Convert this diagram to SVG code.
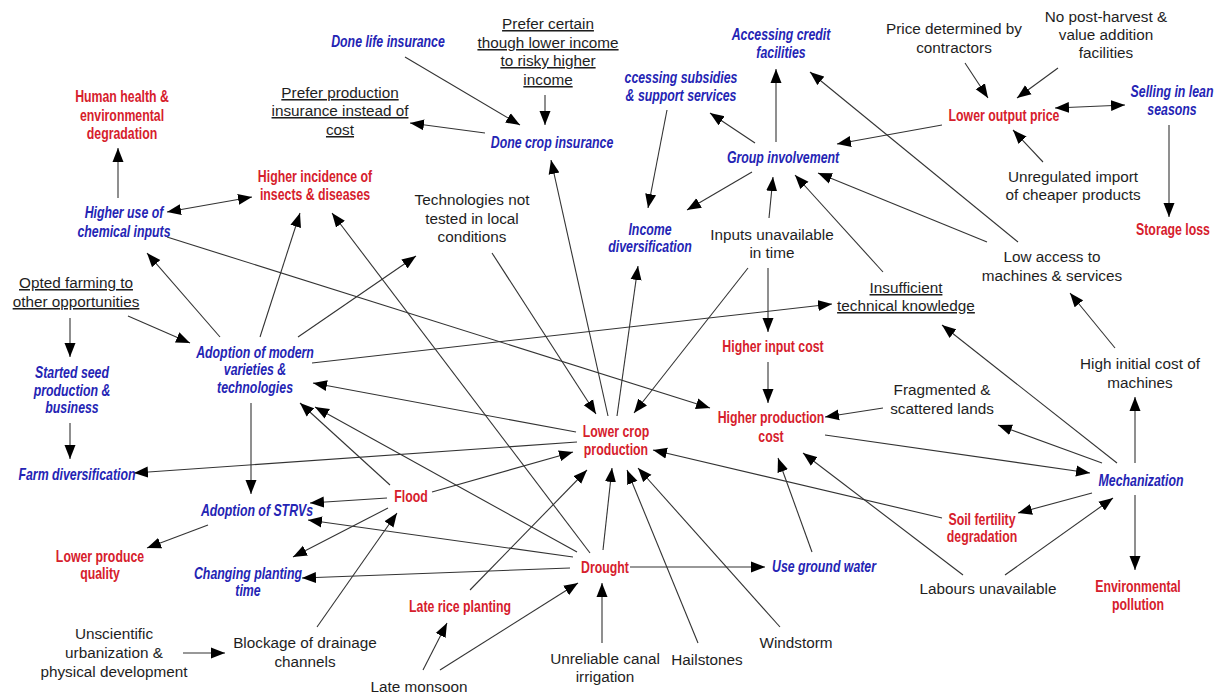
<svg xmlns="http://www.w3.org/2000/svg" width="1217" height="695" viewBox="0 0 1217 695">
<style>
text{text-anchor:middle}
.k{font-family:"Liberation Sans",Arial,sans-serif;font-size:15.3px;fill:#1e1e1e}
.u{text-decoration:underline}
.r{font-family:"Liberation Sans Narrow","Liberation Sans",Arial,sans-serif;font-weight:bold;font-size:15.6px;fill:#d6202c}
.b{font-family:"Liberation Sans Narrow","Liberation Sans",Arial,sans-serif;font-weight:bold;font-style:italic;font-size:15.6px;fill:#2424b4}
#edges line{stroke:#333;stroke-width:1.1;fill:none;marker-end:url(#ah)}
#edges line.d{marker-start:url(#ah)}
</style>
<defs>
<marker id="ah" markerUnits="userSpaceOnUse" markerWidth="15" markerHeight="12" refX="14" refY="5.5" orient="auto-start-reverse" viewBox="0 0 15 11">
<path d="M0,0 L14,5.5 L0,11 z" fill="#000"/>
</marker>
</defs>
<rect width="1217" height="695" fill="#fff"/>
<g id="edges">
<line x1="118" y1="198" x2="118" y2="148"/>
<line class="d" x1="167" y1="212" x2="252" y2="197"/>
<line x1="220" y1="337" x2="147" y2="253"/>
<line x1="260" y1="337" x2="300" y2="213"/>
<line x1="298" y1="337" x2="416" y2="256"/>
<line x1="312" y1="363" x2="832" y2="304"/>
<line x1="167" y1="237" x2="710" y2="408"/>
<line x1="70" y1="318" x2="70" y2="357"/>
<line x1="128" y1="316" x2="190" y2="343"/>
<line x1="70" y1="423" x2="70" y2="459"/>
<line x1="251" y1="403" x2="251" y2="494"/>
<line x1="577" y1="442" x2="134" y2="473"/>
<line x1="576" y1="432" x2="313" y2="383"/>
<line x1="390" y1="485" x2="300" y2="403"/>
<line x1="577" y1="552" x2="315" y2="407"/>
<line x1="590" y1="553" x2="332" y2="213"/>
<line x1="492" y1="253" x2="596" y2="414"/>
<line x1="608" y1="416" x2="551" y2="160"/>
<line x1="617" y1="416" x2="638" y2="266"/>
<line x1="748" y1="268" x2="634" y2="413"/>
<line x1="769" y1="218" x2="773" y2="177"/>
<line x1="768" y1="268" x2="768" y2="332"/>
<line x1="768" y1="362" x2="768" y2="403"/>
<line x1="883" y1="272" x2="795" y2="175"/>
<line x1="987" y1="242" x2="818" y2="173"/>
<line x1="1018" y1="242" x2="810" y2="72"/>
<line x1="942" y1="125" x2="837" y2="144"/>
<line x1="776" y1="142" x2="776" y2="69"/>
<line x1="755" y1="143" x2="710" y2="113"/>
<line x1="667" y1="110" x2="648" y2="208"/>
<line x1="752" y1="172" x2="687" y2="210"/>
<line x1="405" y1="57" x2="520" y2="125"/>
<line x1="545" y1="95" x2="545" y2="125"/>
<line x1="485" y1="133" x2="410" y2="123"/>
<line x1="965" y1="63" x2="988" y2="98"/>
<line x1="1058" y1="68" x2="1017" y2="98"/>
<line class="d" x1="1055" y1="108" x2="1125" y2="105"/>
<line x1="1043" y1="162" x2="1013" y2="130"/>
<line x1="1169" y1="125" x2="1169" y2="217"/>
<line x1="1115" y1="348" x2="1070" y2="293"/>
<line x1="1135" y1="463" x2="1135" y2="397"/>
<line x1="1117" y1="463" x2="942" y2="325"/>
<line x1="1102" y1="463" x2="998" y2="425"/>
<line x1="825" y1="435" x2="1090" y2="473"/>
<line x1="883" y1="408" x2="825" y2="417"/>
<line x1="1092" y1="493" x2="1018" y2="513"/>
<line x1="1135" y1="495" x2="1135" y2="570"/>
<line x1="1005" y1="575" x2="1113" y2="498"/>
<line x1="963" y1="575" x2="803" y2="453"/>
<line x1="812" y1="552" x2="778" y2="458"/>
<line x1="942" y1="518" x2="653" y2="450"/>
<line x1="630" y1="567" x2="765" y2="567"/>
<line x1="780" y1="627" x2="638" y2="468"/>
<line x1="698" y1="643" x2="627" y2="470"/>
<line x1="603" y1="550" x2="612" y2="468"/>
<line x1="470" y1="590" x2="587" y2="470"/>
<line x1="432" y1="492" x2="573" y2="452"/>
<line x1="602" y1="643" x2="602" y2="583"/>
<line x1="440" y1="670" x2="578" y2="583"/>
<line x1="423" y1="670" x2="447" y2="623"/>
<line x1="317" y1="627" x2="397" y2="513"/>
<line x1="387" y1="498" x2="310" y2="503"/>
<line x1="573" y1="557" x2="308" y2="520"/>
<line x1="388" y1="508" x2="293" y2="557"/>
<line x1="570" y1="568" x2="302" y2="578"/>
<line x1="208" y1="525" x2="147" y2="548"/>
<line x1="183" y1="653" x2="225" y2="653"/>
</g>
<g id="prefCertain"><text class="k u" x="548" y="29">Prefer certain</text><text class="k u" x="548" y="48">though lower income</text><text class="k u" x="548" y="66">to risky higher</text><text class="k u" x="548" y="85">income</text></g>
<g id="prefProduction"><text class="k u" x="340" y="98">Prefer production</text><text class="k u" x="340" y="116">insurance instead of</text><text class="k u" x="340" y="135">cost</text></g>
<g id="techNotTested"><text class="k" x="472" y="205">Technologies not</text><text class="k" x="472" y="224">tested in local</text><text class="k" x="472" y="242">conditions</text></g>
<g id="optedFarming"><text class="k u" x="76" y="288">Opted farming to</text><text class="k u" x="76" y="307">other opportunities</text></g>
<g id="inputsUnavailable"><text class="k" x="772" y="240">Inputs unavailable</text><text class="k" x="772" y="258">in time</text></g>
<g id="insufficientKnowledge"><text class="k u" x="906" y="293">Insufficient</text><text class="k u" x="906" y="311">technical knowledge</text></g>
<g id="priceDetermined"><text class="k" x="954" y="34">Price determined by</text><text class="k" x="954" y="53">contractors</text></g>
<g id="noPostHarvest"><text class="k" x="1106" y="22">No post-harvest &amp;</text><text class="k" x="1106" y="40">value addition</text><text class="k" x="1106" y="58">facilities</text></g>
<g id="unregulatedImport"><text class="k" x="1073" y="182">Unregulated import</text><text class="k" x="1073" y="200">of cheaper products</text></g>
<g id="lowAccess"><text class="k" x="1052" y="262">Low access to</text><text class="k" x="1052" y="281">machines &amp; services</text></g>
<g id="highInitialCost"><text class="k" x="1140" y="369">High initial cost of</text><text class="k" x="1140" y="388">machines</text></g>
<g id="fragmentedLands"><text class="k" x="942" y="395">Fragmented &amp;</text><text class="k" x="942" y="414">scattered lands</text></g>
<g id="laboursUnavailable"><text class="k" x="988" y="594">Labours unavailable</text></g>
<g id="windstorm"><text class="k" x="796" y="648">Windstorm</text></g>
<g id="hailstones"><text class="k" x="707" y="665">Hailstones</text></g>
<g id="unreliableCanal"><text class="k" x="605" y="664">Unreliable canal</text><text class="k" x="605" y="682">irrigation</text></g>
<g id="lateMonsoon"><text class="k" x="419" y="692">Late monsoon</text></g>
<g id="blockageDrainage"><text class="k" x="305" y="648">Blockage of drainage</text><text class="k" x="305" y="667">channels</text></g>
<g id="unscientificUrbanization"><text class="k" x="114" y="639">Unscientific</text><text class="k" x="114" y="658">urbanization &amp;</text><text class="k" x="114" y="677">physical development</text></g>
<g id="humanHealth" transform="translate(122 0) scale(0.79 1)"><text class="r" x="0" y="102">Human health &amp;</text><text class="r" x="0" y="121">environmental</text><text class="r" x="0" y="139">degradation</text></g>
<g id="higherIncidence" transform="translate(315 0) scale(0.79 1)"><text class="r" x="0" y="182">Higher incidence of</text><text class="r" x="0" y="200">insects &amp; diseases</text></g>
<g id="lowerOutputPrice" transform="translate(1004 0) scale(0.79 1)"><text class="r" x="0" y="121">Lower output price</text></g>
<g id="storageLoss" transform="translate(1173 0) scale(0.79 1)"><text class="r" x="0" y="235">Storage loss</text></g>
<g id="higherInputCost" transform="translate(773 0) scale(0.79 1)"><text class="r" x="0" y="352">Higher input cost</text></g>
<g id="higherProductionCost" transform="translate(771 0) scale(0.79 1)"><text class="r" x="0" y="423">Higher production</text><text class="r" x="0" y="442">cost</text></g>
<g id="lowerCropProduction" transform="translate(616 0) scale(0.79 1)"><text class="r" x="0" y="437">Lower crop</text><text class="r" x="0" y="455">production</text></g>
<g id="flood" transform="translate(411 0) scale(0.79 1)"><text class="r" x="0" y="502">Flood</text></g>
<g id="drought" transform="translate(605 0) scale(0.79 1)"><text class="r" x="0" y="573">Drought</text></g>
<g id="lateRicePlanting" transform="translate(460 0) scale(0.79 1)"><text class="r" x="0" y="612">Late rice planting</text></g>
<g id="soilFertility" transform="translate(982 0) scale(0.79 1)"><text class="r" x="0" y="525">Soil fertility</text><text class="r" x="0" y="542">degradation</text></g>
<g id="environmentalPollution" transform="translate(1138 0) scale(0.79 1)"><text class="r" x="0" y="592">Environmental</text><text class="r" x="0" y="610">pollution</text></g>
<g id="lowerProduceQuality" transform="translate(100 0) scale(0.79 1)"><text class="r" x="0" y="562">Lower produce</text><text class="r" x="0" y="579">quality</text></g>
<g id="doneLifeInsurance" transform="translate(388 0) scale(0.79 1)"><text class="b" x="0" y="47">Done life insurance</text></g>
<g id="doneCropInsurance" transform="translate(552 0) scale(0.79 1)"><text class="b" x="0" y="148">Done crop insurance</text></g>
<g id="accessingCredit" transform="translate(781 0) scale(0.79 1)"><text class="b" x="0" y="40">Accessing credit</text><text class="b" x="0" y="58">facilities</text></g>
<g id="accessingSubsidies" transform="translate(681 0) scale(0.79 1)"><text class="b" x="0" y="83">ccessing subsidies</text><text class="b" x="0" y="101">&amp; support services</text></g>
<g id="groupInvolvement" transform="translate(783 0) scale(0.79 1)"><text class="b" x="0" y="163">Group involvement</text></g>
<g id="incomeDiversification" transform="translate(650 0) scale(0.79 1)"><text class="b" x="0" y="235">Income</text><text class="b" x="0" y="252">diversification</text></g>
<g id="sellingLean" transform="translate(1172 0) scale(0.79 1)"><text class="b" x="0" y="97">Selling in lean</text><text class="b" x="0" y="115">seasons</text></g>
<g id="higherUseChemical" transform="translate(124 0) scale(0.79 1)"><text class="b" x="0" y="218">Higher use of</text><text class="b" x="0" y="237">chemical inputs</text></g>
<g id="adoptionModern" transform="translate(255 0) scale(0.79 1)"><text class="b" x="0" y="358">Adoption of modern</text><text class="b" x="0" y="375">varieties &amp;</text><text class="b" x="0" y="393">technologies</text></g>
<g id="startedSeed" transform="translate(72 0) scale(0.79 1)"><text class="b" x="0" y="378">Started seed</text><text class="b" x="0" y="396">production &amp;</text><text class="b" x="0" y="413">business</text></g>
<g id="farmDiversification" transform="translate(77 0) scale(0.79 1)"><text class="b" x="0" y="480">Farm diversification</text></g>
<g id="adoptionSTRVs" transform="translate(257 0) scale(0.79 1)"><text class="b" x="0" y="516">Adoption of STRVs</text></g>
<g id="changingPlanting" transform="translate(248 0) scale(0.79 1)"><text class="b" x="0" y="579">Changing planting</text><text class="b" x="0" y="596">time</text></g>
<g id="useGroundWater" transform="translate(824 0) scale(0.79 1)"><text class="b" x="0" y="572">Use ground water</text></g>
<g id="mechanization" transform="translate(1141 0) scale(0.79 1)"><text class="b" x="0" y="486">Mechanization</text></g>
</svg>
